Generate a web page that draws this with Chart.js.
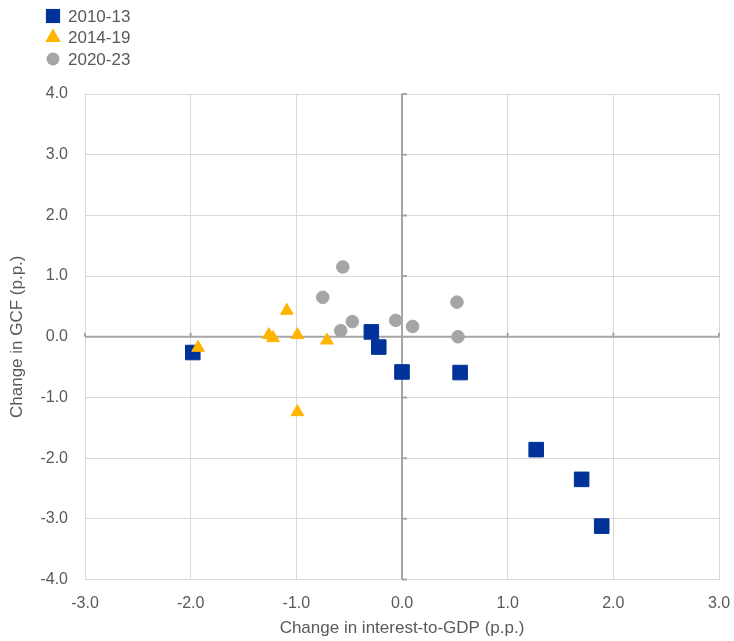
<!DOCTYPE html>
<html>
<head>
<meta charset="utf-8">
<script src="https://cdn.jsdelivr.net/npm/chart.js@4"></script>
<style>
  body { margin: 0; background: #ffffff; }
  #wrap { width: 734px; height: 641px; }
</style>
</head>
<body>
<div id="wrap"><canvas id="scatter" width="734" height="641"></canvas></div>
<script>
// Dữ liệu
const seriesNames = ['2010-13', '2014-19', '2020-23'];

const x2010 = [-1.98, -0.29, -0.22, 0.00, 0.55, 1.27, 1.70, 1.89];
const y2010 = [-0.26, 0.08, -0.17, -0.58, -0.59, -1.86, -2.35, -3.12];

const x2014 = [-1.93, -1.09, -1.26, -1.22, -0.99, -0.71, -0.99];
const y2014 = [-0.18, 0.43, 0.03, -0.02, 0.03, -0.06, -1.24];

const x2020 = [-0.56, -0.75, -0.47, -0.58, -0.06, 0.10, 0.52, 0.53];
const y2020 = [1.15, 0.65, 0.25, 0.10, 0.27, 0.17, 0.57, 0.00];

const xTicks = [-3, -2, -1, 0, 1, 2, 3];
const yTicks = [-4, -3, -2, -1, 0, 1, 2, 3, 4];

const xTitle = 'Change in interest-to-GDP (p.p.)';
const yTitle = 'Change in GCF (p.p.)';

function toPoints(xs, ys) {
    return xs.map(function(x, i) { return { x: x, y: ys[i] }; });
}

const fontFamily = '"Liberation Sans", Arial, sans-serif';
const textColor = '#595959';
const gridColor = '#d9d9d9';
const axisColor = '#a6a6a6';

// Vẽ trục 0 đậm + các vạch nhỏ
const zeroAxes = {
    id: 'zeroAxes',
    beforeDatasetsDraw(chart) {
        const c = chart.ctx;
        const xs = chart.scales.x, ys = chart.scales.y;
        const a = chart.chartArea;
        const x0 = xs.getPixelForValue(0);
        const y0 = ys.getPixelForValue(0);
        c.save();
        c.strokeStyle = axisColor;
        c.lineWidth = 2;
        c.beginPath();
        c.moveTo(x0, a.top);
        c.lineTo(x0, a.bottom);
        c.moveTo(a.left, y0);
        c.lineTo(a.right, y0);
        yTicks.forEach(function(v) {
            const p = ys.getPixelForValue(v);
            c.moveTo(x0, p);
            c.lineTo(x0 + 5, p);
        });
        xTicks.forEach(function(v) {
            const p = xs.getPixelForValue(v);
            c.moveTo(p, y0);
            c.lineTo(p, y0 - 4);
        });
        c.stroke();
        c.restore();
    }
};

// Chú thích tự vẽ ở góc trên bên trái
const sideLegend = {
    id: 'sideLegend',
    afterDraw(chart) {
        const c = chart.ctx;
        const sizes = [10, 9, 6.5];
        c.save();
        chart.data.datasets.forEach(function(ds, i) {
            const cx = 53, cy = 16 + i * 21.5, r = sizes[i];
            c.fillStyle = ds.backgroundColor;
            c.beginPath();
            if (ds.pointStyle === 'rect') {
                const s = r * Math.SQRT1_2;
                c.rect(cx - s, cy - s, 2 * s, 2 * s);
            } else if (ds.pointStyle === 'triangle') {
                c.moveTo(cx, cy - r);
                c.lineTo(cx + r * 0.866, cy + r / 2);
                c.lineTo(cx - r * 0.866, cy + r / 2);
                c.closePath();
            } else {
                c.arc(cx, cy, r, 0, Math.PI * 2);
            }
            c.fill();
            c.fillStyle = textColor;
            c.font = '17px ' + fontFamily;
            c.textBaseline = 'middle';
            c.textAlign = 'left';
            c.fillText(ds.label, 68, cy + 1);
        });
        c.restore();
    }
};

const ctx = document.getElementById('scatter').getContext('2d');
new Chart(ctx, {
    type: 'scatter',
    data: {
        datasets: [
            {
                label: seriesNames[0],
                data: toPoints(x2010, y2010),
                backgroundColor: '#003299',
                borderColor: '#003299',
                borderWidth: 1,
                pointStyle: 'rect',
                pointRadius: 10.3,
                order: 3
            },
            {
                label: seriesNames[1],
                data: toPoints(x2014, y2014),
                backgroundColor: '#ffb400',
                borderColor: '#ffb400',
                borderWidth: 1,
                pointStyle: 'triangle',
                pointRadius: 7.3,
                order: 1
            },
            {
                label: seriesNames[2],
                data: toPoints(x2020, y2020),
                backgroundColor: '#a5a5a5',
                borderColor: '#a5a5a5',
                borderWidth: 1,
                pointStyle: 'circle',
                pointRadius: 6.3,
                order: 2
            }
        ]
    },
    options: {
        responsive: false,
        animation: false,
        layout: { padding: { top: 94, right: 15, bottom: 0, left: 0 } },
        plugins: {
            legend: { display: false },
            tooltip: { enabled: false }
        },
        scales: {
            x: {
                type: 'linear',
                min: -3,
                max: 3,
                afterBuildTicks: function(scale) {
                    scale.ticks = xTicks.map(function(v) { return { value: v }; });
                },
                afterFit: function(scale) {
                    scale.height = 61.5;
                    scale.paddingRight = 0;
                    scale.paddingLeft = 0;
                },
                grid: { color: gridColor, lineWidth: 1, drawTicks: false },
                border: { display: false },
                ticks: {
                    padding: 14,
                    color: textColor,
                    font: { family: fontFamily, size: 16 },
                    callback: function(v) { return Number(v).toFixed(1); }
                },
                title: {
                    display: true,
                    text: xTitle,
                    color: textColor,
                    font: { family: fontFamily, size: 17 },
                    padding: { top: 0, bottom: 2 }
                }
            },
            y: {
                type: 'linear',
                min: -4,
                max: 4,
                afterBuildTicks: function(scale) {
                    scale.ticks = yTicks.map(function(v) { return { value: v }; });
                },
                afterFit: function(scale) { scale.width = 85; },
                grid: { color: gridColor, lineWidth: 1, drawTicks: false },
                border: { display: false },
                ticks: {
                    padding: 17,
                    color: textColor,
                    font: { family: fontFamily, size: 16 },
                    callback: function(v) { return Number(v).toFixed(1); }
                },
                title: {
                    display: true,
                    text: yTitle,
                    color: textColor,
                    font: { family: fontFamily, size: 17 },
                    padding: { top: 7, bottom: 0 }
                }
            }
        }
    },
    plugins: [zeroAxes, sideLegend]
});
</script>
</body>
</html>
